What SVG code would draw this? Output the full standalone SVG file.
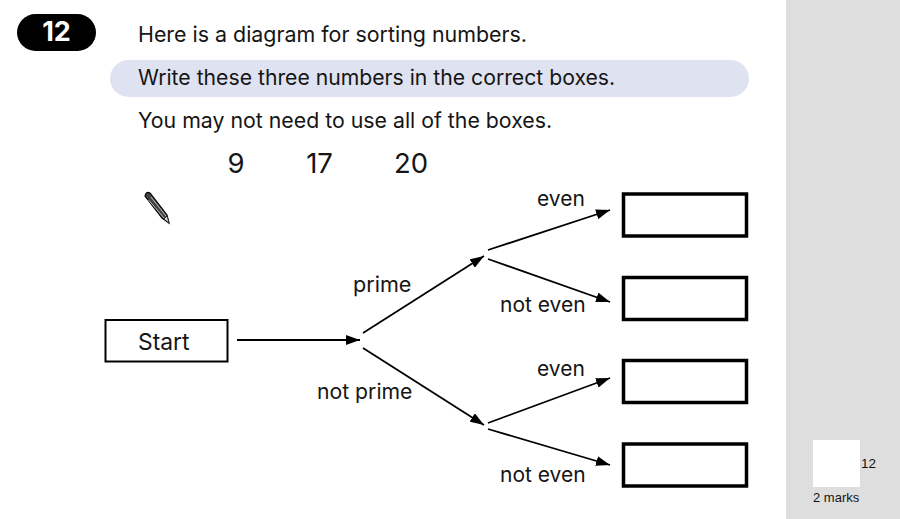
<svg xmlns="http://www.w3.org/2000/svg" width="900" height="519" viewBox="0 0 900 519">
<style>
text{font-family:"Inter","Liberation Sans",sans-serif;fill:#151515}
.t{font-size:21.3px}
.n{font-size:27.5px}
.l{font-size:21px}
.box{fill:#fff;stroke:#000;stroke-width:3.5}
.c{stroke:#000;stroke-width:1.8;fill:none;marker-end:url(#a)}
</style>
<defs><marker id="a" markerUnits="userSpaceOnUse" markerWidth="14" markerHeight="10" refX="14" refY="5" orient="auto"><path d="M0 0L14 5L0 10z" fill="#000"/></marker></defs>
<rect width="900" height="519" fill="#fff"/>
<rect x="786" width="114" height="519" fill="#dedede"/>
<g id="question-number"><rect x="17" y="14" width="79" height="37" rx="18.5" fill="#000"/><text x="56.500" y="40.500" text-anchor="middle" style="fill:#fff;font-size:27px;font-weight:700">12</text></g>
<g id="instructions">
<rect x="110" y="60" width="639" height="37" rx="18.5" fill="#dfe2f0"/>
<text class="t" x="138" y="42" style="font-size:21.4px">Here is a diagram for sorting numbers.</text>
<text class="t" x="138" y="85" style="font-size:21.2px">Write these three numbers in the correct boxes.</text>
<text class="t" x="138" y="128">You may not need to use all of the boxes.</text>
</g>
<g id="numbers"><text class="n" x="236" y="172.500" text-anchor="middle">9</text><text class="n" x="319.500" y="172.500" text-anchor="middle">17</text><text class="n" x="411" y="172.500" text-anchor="middle">20</text></g>
<g id="pencil"><path d="M145 196Q146 191 150 193L167 215L169 223L162 218Z" fill="#444" stroke="#000" stroke-width="1.200"/><path d="M148.500 200L164 218M151 197L166 216" stroke="#ddd" stroke-width=".8"/><path d="M164 219L167 216L169 223Z" fill="#ddd" stroke="#000" stroke-width=".6"/></g>
<g id="start"><rect x="105.500" y="320" width="122" height="41.500" fill="#fff" stroke="#000" stroke-width="2"/><text class="l" x="138" y="349.500" style="font-size:22.8px">Start</text></g>
<g id="box1"><rect class="box" x="623.500" y="194" width="123" height="42"/></g>
<g id="box2"><rect class="box" x="623.500" y="277.500" width="123" height="42"/></g>
<g id="box3"><rect class="box" x="623.500" y="360.500" width="123" height="42"/></g>
<g id="box4"><rect class="box" x="623.500" y="444" width="123" height="42"/></g>
<g id="connectors">
<line class="c" x1="237" y1="340" x2="360" y2="340"/>
<line class="c" x1="363" y1="333" x2="484" y2="256"/>
<line class="c" x1="363" y1="348" x2="484" y2="425"/>
<line class="c" x1="488" y1="250" x2="610" y2="210"/>
<line class="c" x1="488" y1="259" x2="610" y2="302"/>
<line class="c" x1="488" y1="423" x2="610" y2="378"/>
<line class="c" x1="488" y1="429" x2="610" y2="465"/>
</g>
<g id="labels">
<text class="l" x="353" y="292" style="font-size:21.6px">prime</text>
<text class="l" x="317" y="398.500" style="font-size:21.2px">not prime</text>
<text class="l" x="537" y="205.500">even</text>
<text class="l" x="500" y="312">not even</text>
<text class="l" x="537" y="375.500">even</text>
<text class="l" x="500" y="482">not even</text>
</g>
<g id="marks"><rect x="813" y="440" width="47" height="47" fill="#fff"/><text x="861" y="468" style="font-size:13.5px;font-family:'Liberation Sans',sans-serif">12</text><text x="813" y="502" style="font-size:13px;font-family:'Liberation Sans',sans-serif">2 marks</text></g>
</svg>
